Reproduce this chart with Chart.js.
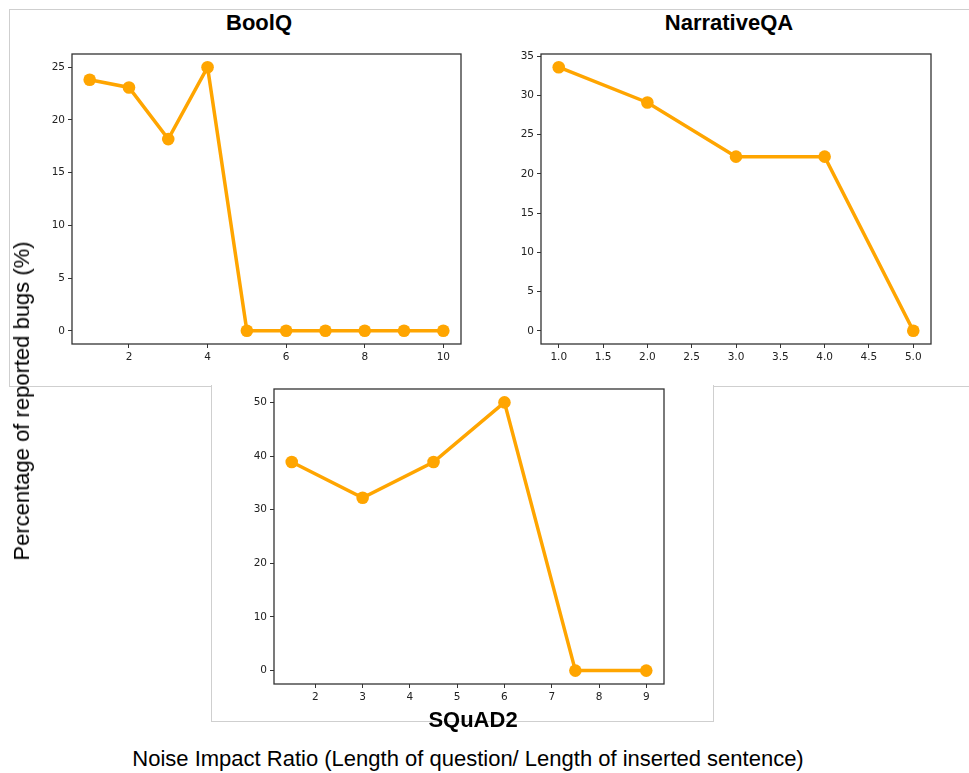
<!DOCTYPE html>
<html>
<head>
<meta charset="utf-8">
<script src="https://cdn.jsdelivr.net/npm/chart.js@4"></script>
<style>
  body { margin: 0; background: #fff; width: 969px; height: 773px; overflow: hidden; position: relative; }
  .frame { position: absolute; box-sizing: border-box; background: #fff; }
  #topFrame { left: 9px; top: 9px; width: 980px; height: 378px; border: 1px solid #cfcfcf; }
  #botFrame { left: 211px; top: 385px; width: 503px; height: 337px; border: 1px solid #cfcfcf; border-top: none; }
  canvas { position: absolute; }
  .title { position: absolute; font: bold 22px "Liberation Sans", Arial, sans-serif; color: #000; transform: translate(-50%, -50%); white-space: nowrap; }
  .label { position: absolute; font: 22px "Liberation Sans", Arial, sans-serif; color: #000; white-space: nowrap; transform: translate(-50%, -50%); }
  #ylab { transform: translate(-50%, -50%) rotate(-90deg); }
</style>
</head>
<body>
<div class="frame" id="topFrame"></div>
<div class="frame" id="botFrame"></div>
<canvas id="boolq"></canvas>
<canvas id="narr"></canvas>
<canvas id="squad"></canvas>
<div class="title" style="left:259px; top:23px;">BoolQ</div>
<div class="title" style="left:729px; top:23px;">NarrativeQA</div>
<div class="title" style="left:473px; top:720px;">SQuAD2</div>
<div class="label" id="ylab" style="left:22px; top:401px;">Percentage of reported bugs (%)</div>
<div class="label" style="left:468px; top:759px;">Noise Impact Ratio (Length of question/ Length of inserted sentence)</div>
<script>
// BoolQ
const boolqX = [1, 2, 3, 4, 5, 6, 7, 8, 9, 10];
const boolqY = [23.81, 23.08, 18.18, 25, 0, 0, 0, 0, 0, 0];
const boolqXTicks = [2, 4, 6, 8, 10];
const boolqYTicks = [0, 5, 10, 15, 20, 25];

// NarrativeQA
const narrX = [1, 2, 3, 4, 5];
const narrY = [33.6, 29.1, 22.2, 22.2, 0];
const narrXTicks = [1.0, 1.5, 2.0, 2.5, 3.0, 3.5, 4.0, 4.5, 5.0];
const narrYTicks = [0, 5, 10, 15, 20, 25, 30, 35];

// SQuAD2
const squadX = [1.5, 3, 4.5, 6, 7.5, 9];
const squadY = [38.89, 32.22, 38.89, 50, 0, 0];
const squadXTicks = [2, 3, 4, 5, 6, 7, 8, 9];
const squadYTicks = [0, 10, 20, 30, 40, 50];

const LINE = "#FFA500";
const AXIS = "#333333";
const tickFont = { family: "DejaVu Sans", size: 10.5 };

// matplotlib-like 5% margins
function range(vals) {
  const lo = Math.min(...vals), hi = Math.max(...vals);
  const pad = (hi - lo) * 0.05;
  return { min: lo - pad, max: hi + pad };
}

const framePlugin = {
  id: "frame",
  beforeDatasetsDraw(chart) {
    const a = chart.chartArea, ctx = chart.ctx;
    ctx.save();
    ctx.strokeStyle = AXIS;
    ctx.lineWidth = 1.3;
    ctx.strokeRect(a.left, a.top, a.right - a.left, a.bottom - a.top);
    ctx.restore();
  }
};

function axis(vals, ticks, decimals, isY) {
  const r = range(vals);
  return {
    type: "linear",
    min: r.min,
    max: r.max,
    afterBuildTicks: s => { s.ticks = ticks.map(v => ({ value: v })); },
    afterFit: s => { if (isY) s.width = 50; else s.height = 25; },
    border: { display: false },
    grid: { display: true, drawOnChartArea: false, drawTicks: true, tickLength: 4, tickColor: AXIS, tickWidth: 1 },
    ticks: {
      color: "#222",
      font: tickFont,
      padding: 3,
      autoSkip: false,
      maxRotation: 0,
      callback: v => Number(v).toFixed(decimals)
    }
  };
}

function panel(id, area, xs, ys, xTicks, yTicks, xDec) {
  const cv = document.getElementById(id);
  const w = area.r - area.l + 60, h = area.b - area.t + 50;
  cv.width = w; cv.height = h;
  cv.style.left = (area.l - 50) + "px";
  cv.style.top = (area.t - 10) + "px";
  cv.style.width = w + "px";
  cv.style.height = h + "px";
  new Chart(cv, {
    type: "line",
    data: {
      datasets: [{
        data: xs.map((x, i) => ({ x: x, y: ys[i] })),
        borderColor: LINE,
        backgroundColor: LINE,
        borderWidth: 3.5,
        pointRadius: 6.3,
        pointBackgroundColor: LINE,
        pointBorderWidth: 0,
        tension: 0,
        clip: false
      }]
    },
    options: {
      responsive: false,
      animation: false,
      layout: { padding: { left: 0, top: 10, right: 10, bottom: 15 } },
      plugins: { legend: { display: false }, tooltip: { enabled: false } },
      scales: {
        x: axis(xs, xTicks, xDec, false),
        y: axis(ys, yTicks, 0, true)
      }
    },
    plugins: [framePlugin]
  });
}

panel("boolq", { l: 72, t: 54, r: 461, b: 344 }, boolqX, boolqY, boolqXTicks, boolqYTicks, 0);
panel("narr", { l: 541, t: 54, r: 931, b: 344 }, narrX, narrY, narrXTicks, narrYTicks, 1);
panel("squad", { l: 274, t: 389, r: 664, b: 684 }, squadX, squadY, squadXTicks, squadYTicks, 0);
</script>
</body>
</html>
